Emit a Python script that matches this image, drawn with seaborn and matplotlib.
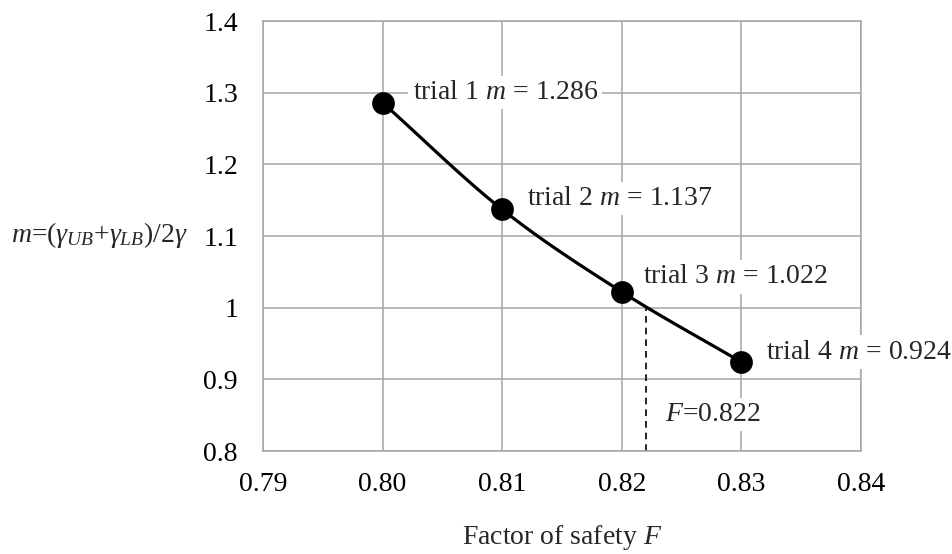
import numpy as np
import pandas as pd
import matplotlib
matplotlib.use("Agg")
import matplotlib.pyplot as plt
import seaborn as sns

# ---- data ----
factor = [0.80, 0.81, 0.82, 0.83]
m_values = [1.286, 1.137, 1.022, 0.924]
labels = ["trial 1", "trial 2", "trial 3", "trial 4"]
F_result = 0.822
m_target = 1.0
x_ticks = [0.79, 0.80, 0.81, 0.82, 0.83, 0.84]
x_ticklabels = ["0.79", "0.80", "0.81", "0.82", "0.83", "0.84"]
y_ticks = [0.8, 0.9, 1.0, 1.1, 1.2, 1.3, 1.4]
y_ticklabels = ["0.8", "0.9", "1", "1.1", "1.2", "1.3", "1.4"]

df = pd.DataFrame({"F": factor, "m": m_values, "trial": labels})

sns.set_style("white")
plt.rcParams["font.family"] = ["Liberation Serif", "DejaVu Serif"]
plt.rcParams["mathtext.fontset"] = "custom"
plt.rcParams["mathtext.rm"] = "Liberation Serif"
plt.rcParams["mathtext.it"] = "Liberation Serif:italic"
plt.rcParams["mathtext.bf"] = "Liberation Serif:bold"

FS = 20
GRID = "#a6a6a6"

fig = plt.figure(figsize=(9.53, 5.54), dpi=100)
ax = fig.add_axes([263 / 953, 1 - 451 / 554, (861 - 263) / 953, (451 - 21) / 554])


def catmull_rom(xs, ys, n=40):
    xs = np.asarray(xs, float)
    ys = np.asarray(ys, float)
    px = np.concatenate([[2 * xs[0] - xs[1]], xs, [2 * xs[-1] - xs[-2]]])
    py = np.concatenate([[2 * ys[0] - ys[1]], ys, [2 * ys[-1] - ys[-2]]])
    outx, outy = [], []
    t = np.linspace(0, 1, n)
    for i in range(1, len(px) - 2):
        for P, out in ((px, outx), (py, outy)):
            p0, p1, p2, p3 = P[i - 1], P[i], P[i + 1], P[i + 2]
            out.extend(0.5 * ((2 * p1) + (-p0 + p2) * t
                              + (2 * p0 - 5 * p1 + 4 * p2 - p3) * t ** 2
                              + (-p0 + 3 * p1 - 3 * p2 + p3) * t ** 3))
    return np.array(outx), np.array(outy)


sx, sy = catmull_rom(df["F"], df["m"])
sns.lineplot(x=sx, y=sy, ax=ax, color="black", lw=2.3, sort=False, zorder=3)
sns.scatterplot(data=df, x="F", y="m", ax=ax, color="black", s=230,
                edgecolor="black", zorder=4)

# dashed line at result
ax.plot([F_result, F_result], [0.8, m_target], ls=(0, (4, 3)), color="black",
        lw=1.2, zorder=2)

offsets = [(30, 10), (25, 11), (21, 15), (25, 10)]
for (xv, yv, lab, off) in zip(factor, m_values, labels, offsets):
    ax.annotate(f"{lab} $m$ = {yv:.3f}", (xv, yv), xytext=off,
                textcoords="offset pixels", ha="left", va="center",
                fontsize=FS, zorder=5, annotation_clip=False,
                bbox=dict(boxstyle="square,pad=0.15", fc="white", ec="none"))

ax.text(0.82358, 0.8505, f"$F$={F_result:.3f}", ha="left", va="center",
        fontsize=FS, zorder=5,
        bbox=dict(boxstyle="square,pad=0.15", fc="white", ec="none"))

ax.set_xlim(0.79, 0.84)
ax.set_ylim(0.8, 1.4)
ax.set_xticks(x_ticks)
ax.set_xticklabels(x_ticklabels)
ax.set_yticks(y_ticks)
ax.set_yticklabels(y_ticklabels)
ax.grid(True, color=GRID, lw=1.1)
ax.set_axisbelow(True)
for s in ax.spines.values():
    s.set_color(GRID)
    s.set_linewidth(1.1)
ax.tick_params(axis="both", which="major", direction="out", length=6,
               width=1.1, color=GRID, labelsize=FS, labelcolor="black")
ax.tick_params(axis="y", pad=12)
ax.tick_params(axis="x", pad=9)

ax.set_xlabel("Factor of safety $F$", fontsize=FS)
ax.xaxis.set_label_coords(0.5, -0.20)
ax.xaxis.label.set_va("center")
ax.set_ylabel(r"$m$=($\gamma_{UB}$+$\gamma_{LB}$)/2$\gamma$", fontsize=FS,
              rotation=0, ha="center", va="center")
ax.yaxis.set_label_coords(-0.273, 0.502)

fig.savefig("out.png", dpi=100)
